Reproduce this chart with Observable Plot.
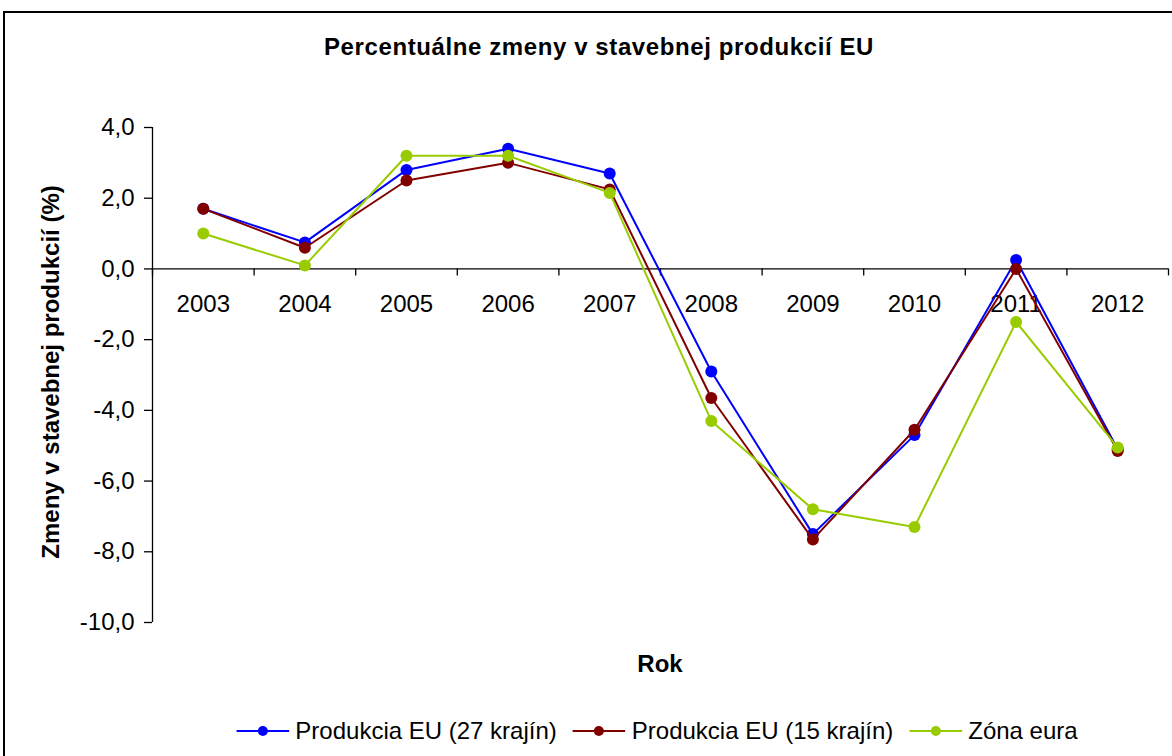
<!DOCTYPE html>
<html>
<head>
<meta charset="utf-8">
<script src="https://cdn.jsdelivr.net/npm/d3@7"></script>
<script src="https://cdn.jsdelivr.net/npm/@observablehq/plot@0.6"></script>
<style>
  html, body { margin: 0; padding: 0; background: #fff; }
  #wrap { position: relative; width: 1172px; height: 756px; overflow: hidden; font-family: "Liberation Sans", Arial, sans-serif; color: #000; }
  #frame { position: absolute; left: 3px; top: 11px; width: 1192px; height: 800px; border: 2px solid #000; box-sizing: border-box; }
  #chart { position: absolute; left: 0; top: 0; }
  .title { position: absolute; left: 0; width: 1198px; top: 33px; text-align: center; font-weight: bold; font-size: 24px; letter-spacing: 0.6px; line-height: 28px; }
  .ylabel { position: absolute; left: 51px; top: 372px; transform: translate(-50%, -50%) rotate(-90deg); font-weight: bold; font-size: 24px; white-space: nowrap; line-height: 28px; }
  .xlabel { position: absolute; left: 660px; top: 664px; transform: translate(-50%, -50%); font-weight: bold; font-size: 24px; line-height: 28px; }
  #legend { position: absolute; left: 657px; top: 731px; transform: translate(-50%, -50%); display: flex; align-items: center; white-space: nowrap; font-size: 24px; line-height: 28px; }
  .item { display: flex; align-items: center; margin-right: 16px; }
  .item:last-child { margin-right: 0; }
  .item svg { margin-right: 6px; }
</style>
</head>
<body>
<div id="wrap">
  <div id="frame"></div>
  <div id="chart"></div>
  <div class="title">Percentuálne zmeny v stavebnej produkcií EU</div>
  <div class="ylabel">Zmeny v stavebnej produkcií (%)</div>
  <div class="xlabel">Rok</div>
  <div id="legend"></div>
</div>
<script>
const years = [2003, 2004, 2005, 2006, 2007, 2008, 2009, 2010, 2011, 2012];
const seriesNames = ["Produkcia EU (27 krajín)", "Produkcia EU (15 krajín)", "Zóna eura"];
const eu27 = [1.7, 0.75, 2.8, 3.4, 2.7, -2.9, -7.5, -4.7, 0.25, -5.1];
const eu15 = [1.7, 0.6, 2.5, 3.0, 2.25, -3.65, -7.65, -4.55, 0.0, -5.15];
const euro = [1.0, 0.1, 3.2, 3.2, 2.15, -4.3, -6.8, -7.3, -1.5, -5.05];
const colors = ["#0000ff", "#800000", "#99cc00"];
const yTicks = [4, 2, 0, -2, -4, -6, -8, -10];

const seriesValues = [eu27, eu15, euro];
const rows = [];
seriesNames.forEach((name, s) => {
  years.forEach((year, i) => rows.push({series: name, year, value: seriesValues[s][i]}));
});

const xDomain = [years[0] - 0.5, years[years.length - 1] + 0.5];
const bounds = d3.range(years.length + 1).map(i => xDomain[0] + i);
const fmt = d => d.toFixed(1).replace(".", ",");

const marks = [
  Plot.ruleX([xDomain[0]], {y1: d3.min(yTicks), y2: d3.max(yTicks), stroke: "#000", strokeWidth: 1.3}),
  Plot.ruleY([0], {stroke: "#000", strokeWidth: 1.3}),
  Plot.ruleX(bounds, {x: d => d, y1: 0, y2: 0, insetBottom: -7, stroke: "#000", strokeWidth: 1.3}),
  Plot.axisY(yTicks, {tickSize: 8, tickPadding: 10, tickFormat: fmt, fontSize: 24, stroke: "#000", strokeWidth: 1.3, label: null, fill: "#000"}),
  Plot.text(years, {x: d => d, y: 0, dy: 35, text: d => String(d), fontSize: 24, fill: "#000"})
];
seriesNames.forEach((name, s) => {
  const data = rows.filter(r => r.series === name);
  marks.push(Plot.line(data, {x: "year", y: "value", stroke: colors[s], strokeWidth: 2}));
  marks.push(Plot.dot(data, {x: "year", y: "value", fill: colors[s], r: 6}));
});

const chart = Plot.plot({
  width: 1172,
  height: 756,
  marginLeft: 152,
  marginRight: 4,
  marginTop: 127,
  marginBottom: 134,
  style: {fontFamily: "'Liberation Sans', Arial, sans-serif", background: "transparent", color: "#000"},
  x: {type: "linear", domain: xDomain, axis: null},
  y: {domain: [d3.min(yTicks), d3.max(yTicks)], axis: null},
  marks
});
document.getElementById("chart").appendChild(chart);

const legend = document.getElementById("legend");
seriesNames.forEach((name, s) => {
  const item = document.createElement("div");
  item.className = "item";
  item.innerHTML = `<svg width="53" height="14"><line x1="0" x2="53" y1="7" y2="7" stroke="${colors[s]}" stroke-width="2"/><circle cx="26.5" cy="7" r="5" fill="${colors[s]}"/></svg><span>${name}</span>`;
  legend.appendChild(item);
});
</script>
</body>
</html>
